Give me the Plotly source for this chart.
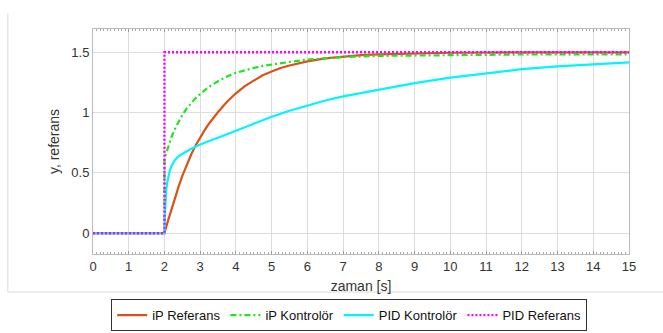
import plotly.graph_objects as go

# --- data ---
t_ip_ref = [0, 2, 2.1, 2.2, 2.3, 2.4, 2.5, 2.625, 2.75, 2.875, 3, 3.125, 3.25, 3.375, 3.5, 3.75, 4, 4.25, 4.5, 4.75,
            5, 5.25, 5.5, 5.75, 6, 6.5, 7, 7.5, 8, 9, 10, 12, 15]
y_ip_ref = [0, 0, 0.105, 0.205, 0.30, 0.39, 0.475, 0.57, 0.655, 0.73, 0.795, 0.855, 0.91, 0.96, 1.005, 1.09, 1.16, 1.22, 1.265, 1.31,
            1.34, 1.37, 1.39, 1.41, 1.425, 1.45, 1.465, 1.476, 1.483, 1.492, 1.496, 1.499, 1.5]

t_ip_ctrl = [0, 2, 2, 2.1, 2.2, 2.3, 2.4, 2.5, 2.625, 2.75, 2.875, 3, 3.25, 3.5, 3.75, 4, 4.25, 4.5, 4.75, 5, 5.5, 6, 6.5, 7, 8, 10, 12, 15]
y_ip_ctrl = [0, 0, 0.62, 0.715, 0.80, 0.87, 0.93, 0.98, 1.035, 1.08, 1.12, 1.155, 1.215, 1.26, 1.30, 1.33, 1.352, 1.37, 1.387, 1.40, 1.42, 1.44, 1.45, 1.46, 1.47, 1.478, 1.482, 1.483]

t_pid_ctrl = [0, 2, 2.01, 2.02, 2.035, 2.05, 2.075, 2.1, 2.15, 2.2, 2.25, 2.3, 2.4, 2.5, 2.625, 2.75, 2.875, 3, 3.25, 3.5, 3.75, 4, 4.5, 5,
              5.5, 6, 6.5, 7, 7.5, 8, 9, 10, 11, 12, 13, 14, 15]
y_pid_ctrl = [0, 0, 0.14, 0.22, 0.30, 0.36, 0.42, 0.46, 0.52, 0.56, 0.59, 0.61, 0.64, 0.66, 0.68, 0.70, 0.718, 0.735, 0.765, 0.79, 0.82, 0.85, 0.91, 0.965,
              1.015, 1.06, 1.10, 1.134, 1.163, 1.19, 1.245, 1.29, 1.328, 1.36, 1.383, 1.40, 1.416]

t_pid_ref = [0, 2, 2, 15]
y_pid_ref = [0, 0, 1.5, 1.5]

x_ticks = list(range(0, 16))
y_ticks = [0, 0.5, 1, 1.5]
y_tick_text = ["0", "0.5", "1", "1.5"]

FONT = "Liberation Sans, Arial, sans-serif"

fig = go.Figure()
fig.add_trace(go.Scatter(x=t_ip_ref, y=y_ip_ref, mode="lines", name="iP Referans",
                         line=dict(color="#D95319", width=2.2)))
fig.add_trace(go.Scatter(x=t_ip_ctrl, y=y_ip_ctrl, mode="lines", name="iP Kontrolör",
                         line=dict(color="#1EE61E", width=2.2, dash="6px,3px,2px,3px")))
fig.add_trace(go.Scatter(x=t_pid_ctrl, y=y_pid_ctrl, mode="lines", name="PID Kontrolör",
                         line=dict(color="#00F5FF", width=2.2)))
fig.add_trace(go.Scatter(x=t_pid_ref, y=y_pid_ref, mode="lines", name="PID Referans",
                         line=dict(color="#FF00FF", width=2.4, dash="2px,2px")))

# light frame around the figure area (as in the reference screenshot)
fig.add_shape(type="line", xref="paper", yref="paper", x0=-0.159, x1=-0.159, y0=-0.169, y1=1.07,
              line=dict(color="#e6e6e6", width=1.5))
fig.add_shape(type="line", xref="paper", yref="paper", x0=-0.159, x1=1.07, y0=-0.169, y1=-0.169,
              line=dict(color="#e6e6e6", width=1.5))

fig.update_layout(
    width=663, height=333,
    margin=dict(l=93, r=34, t=29, b=79, autoexpand=False),
    paper_bgcolor="white", plot_bgcolor="white",
    font=dict(family=FONT, size=13, color="#333333"),
    showlegend=True,
    legend=dict(orientation="h", x=0.478, xanchor="center", y=-0.272, yanchor="middle",
                bordercolor="#333333", borderwidth=1, bgcolor="white",
                font=dict(family=FONT, size=13, color="#111111"),
                itemwidth=30, tracegroupgap=0, itemclick=False),
    xaxis=dict(range=[0, 15], tickvals=x_ticks, ticktext=[str(v) for v in x_ticks],
               showgrid=True, gridcolor="#dedede", gridwidth=1,
               zeroline=False, showline=True, linecolor="#bbbbbb", linewidth=1, mirror="ticks",
               ticks="inside", ticklen=3, tickcolor="#999999",
               minor=dict(dtick=0.1, ticks="inside", ticklen=2, tickcolor="#aaaaaa", showgrid=False),
               tickfont=dict(size=13, color="#333333"),
               title=dict(text="zaman [s]", font=dict(size=14, color="#333333"), standoff=8)),
    yaxis=dict(range=[-0.172, 1.693], tickvals=y_ticks, ticktext=y_tick_text,
               showgrid=True, gridcolor="#dedede", gridwidth=1,
               zeroline=False, showline=True, linecolor="#bbbbbb", linewidth=1, mirror=True,
               ticks="", tickfont=dict(size=13, color="#333333"),
               title=dict(text="y, referans", font=dict(size=14, color="#333333"), standoff=8)),
)

fig.write_html("out.html")
